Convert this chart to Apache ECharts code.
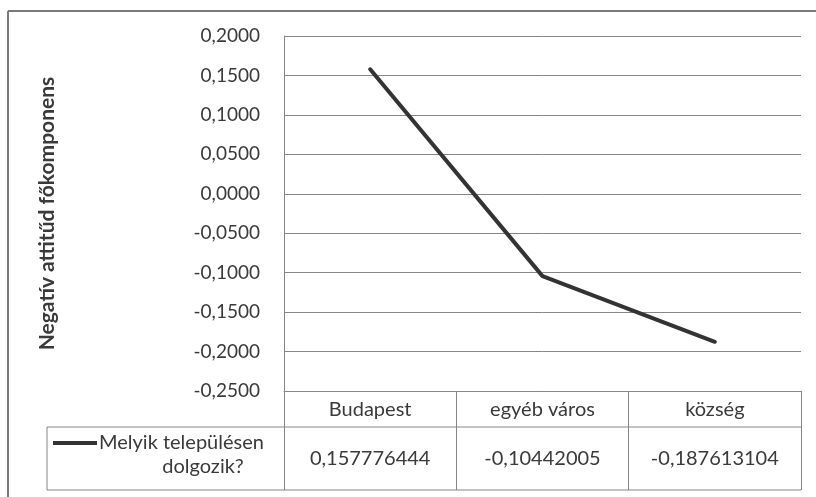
<!DOCTYPE html>
<html>
<head>
<meta charset="utf-8">
<script src="https://cdn.jsdelivr.net/npm/echarts@6/dist/echarts.min.js"></script>
<style>
html,body{margin:0;padding:0;background:#fff;}
#c{width:816px;height:497px;}
</style>
</head>
<body>
<div id="c"></div>
<script>
const categories = ['Budapest', 'egyéb város', 'község'];
const values = [0.157776444, -0.10442005, -0.187613104];
const valueLabels = ['0,157776444', '-0,10442005', '-0,187613104'];
const seriesName = 'Melyik településen dolgozik?';
const legendLines = ['Melyik településen', 'dolgozik?'];
const yTitle = 'Negatív attitűd főkomponens';
const yMin = -0.25, yMax = 0.2, yStep = 0.05;

const FONT = 'Lato';
const TXT = '#3a3a3a';
const GRID = '#868686';
const LINE = '#333333';

const chart = echarts.init(document.getElementById('c'), null, {renderer: 'canvas'});

const option = {
  animation: false,
  backgroundColor: '#ffffff',
  textStyle: {fontFamily: FONT, color: TXT},
  grid: {left: 284, right: 15, top: 36, bottom: 106, containLabel: false},
  xAxis: {
    type: 'category',
    data: categories,
    boundaryGap: true,
    axisLine: {show: true, onZero: false, lineStyle: {color: GRID, width: 1}},
    axisTick: {show: true, interval: 0, length: 99, lineStyle: {color: GRID, width: 1}},
    splitLine: {show: false},
    axisLabel: {
      interval: 0,
      margin: 1,
      formatter: function (v, i) {
        return '{a|' + v + '}\n{b|' + valueLabels[i] + '}';
      },
      rich: {
        a: {fontFamily: FONT, fontSize: 20, color: TXT, lineHeight: 36, align: 'center'},
        b: {fontFamily: FONT, fontSize: 20, color: TXT, lineHeight: 62, align: 'center'}
      }
    }
  },
  yAxis: {
    type: 'value',
    min: yMin,
    max: yMax,
    interval: yStep,
    axisLine: {show: true, lineStyle: {color: GRID, width: 1}},
    axisTick: {show: false},
    splitLine: {show: true, lineStyle: {color: GRID, width: 1}},
    axisLabel: {
      fontFamily: FONT, fontSize: 19, color: TXT, margin: 24,
      formatter: function (v) { return v.toFixed(4).replace('.', ','); }
    },
    name: yTitle,
    nameLocation: 'middle',
    nameRotate: 90,
    nameGap: 226,
    nameTextStyle: {fontFamily: FONT, fontSize: 21, fontWeight: 'bold', color: TXT}
  },
  series: [{
    name: seriesName,
    type: 'line',
    data: values,
    symbol: 'none',
    lineStyle: {color: LINE, width: 4, cap: 'round', join: 'round'}
  }]
};
chart.setOption(option);

// table lines and legend cell, positioned from the axis scales
const left0 = chart.convertToPixel({xAxisIndex: 0}, 0);
const step = chart.convertToPixel({xAxisIndex: 0}, 1) - left0;
const axisX = left0 - step / 2;
const rightX = axisX + step * categories.length;
const axisY = chart.convertToPixel({yAxisIndex: 0}, yMin);
const rowMid = axisY + 36;
const rowBot = axisY + 99;
const cellL = 47;
const lnStyle = {stroke: GRID, lineWidth: 1};

chart.setOption({
  graphic: [
    {type: 'line', shape: {x1: cellL, y1: rowMid, x2: rightX, y2: rowMid}, style: lnStyle, silent: true},
    {type: 'line', shape: {x1: cellL, y1: rowBot, x2: rightX, y2: rowBot}, style: lnStyle, silent: true},
    {type: 'line', shape: {x1: cellL, y1: rowMid, x2: cellL, y2: rowBot}, style: lnStyle, silent: true},
    {type: 'line', shape: {x1: 53, y1: rowMid + 16, x2: 97, y2: rowMid + 16}, style: {stroke: LINE, lineWidth: 4}, silent: true},
    {type: 'text', x: 99, y: rowMid + 16, style: {text: legendLines[0], font: '20px ' + FONT, fill: TXT, textAlign: 'left', textVerticalAlign: 'middle'}, silent: true},
    {type: 'text', x: 203, y: rowMid + 40, style: {text: legendLines[1], font: '20px ' + FONT, fill: TXT, textAlign: 'center', textVerticalAlign: 'middle'}, silent: true},
    // outer chart border (top and left edges)
    {type: 'line', shape: {x1: 8, y1: 11, x2: 816, y2: 11}, style: {stroke: '#7a7a7a', lineWidth: 2}, silent: true},
    {type: 'line', shape: {x1: 8, y1: 11, x2: 8, y2: 497}, style: {stroke: '#7a7a7a', lineWidth: 2}, silent: true}
  ]
});
</script>
</body>
</html>
